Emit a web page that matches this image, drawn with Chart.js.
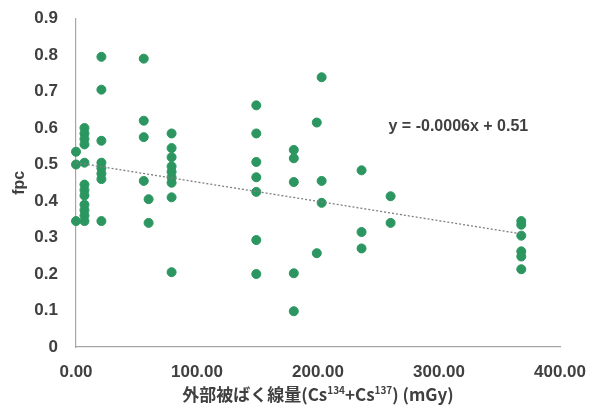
<!DOCTYPE html>
<html>
<head>
<meta charset="utf-8">
<script src="https://cdn.jsdelivr.net/npm/chart.js@4.4.1/dist/chart.umd.min.js"></script>
<style>
  html, body { margin: 0; padding: 0; background: #fff; }
  #wrap { width: 589px; height: 410px; }
</style>
</head>
<body>
<div id="wrap"><canvas id="c" width="589" height="410"></canvas></div>
<script>
// 外部被ばく線量 (mGy) と fpc の値
const doseX = [
  0, 0, 0,
  7, 7, 7, 7, 7, 7, 7, 7, 7, 7, 7, 7,
  21, 21, 21, 21, 21, 21, 21, 21,
  56, 56, 56, 56, 60, 60,
  79, 79, 79, 79, 79, 79, 79, 79, 79,
  149, 149, 149, 149, 149, 149, 149,
  180, 180, 180, 180, 180,
  199, 199, 203, 203, 203,
  236, 236, 236,
  260, 260,
  368, 368, 368, 368, 368, 368
];
const fpcY = [
  0.535, 0.50, 0.345,
  0.60, 0.585, 0.57, 0.555, 0.505, 0.445, 0.43, 0.415, 0.39, 0.375, 0.36, 0.345,
  0.795, 0.705, 0.565, 0.505, 0.49, 0.475, 0.46, 0.345,
  0.79, 0.62, 0.575, 0.455, 0.405, 0.34,
  0.585, 0.545, 0.52, 0.495, 0.48, 0.465, 0.45, 0.41, 0.205,
  0.662, 0.585, 0.507, 0.465, 0.425, 0.293, 0.20,
  0.54, 0.517, 0.452, 0.202, 0.098,
  0.615, 0.257, 0.739, 0.455, 0.395,
  0.484, 0.315, 0.27,
  0.413, 0.34,
  0.345, 0.335, 0.305, 0.262, 0.248, 0.213
];
// 近似直線の両端
const trendX = [0, 368];
const trendY = [0.505, 0.31];
const trendLabel = 'y = -0.0006x + 0.51';

const xTicks = [0, 100, 200, 300, 400];
const yTicks = [0, 0.1, 0.2, 0.3, 0.4, 0.5, 0.6, 0.7, 0.8, 0.9];

// x軸タイトル（[文字, 上付きかどうか]）
const xTitleParts = [['外部被ばく線量(Cs', false], ['134', true], ['+Cs', false], ['137', true], [') (mGy)', false]];

const textColor = '#404040';
const fontFamily = '"Liberation Sans", Arial, sans-serif';
const jpFont = '"Noto Sans CJK JP", "Liberation Sans", sans-serif';

const points = doseX.map((x, i) => ({ x: x, y: fpcY[i] }));
const trend = trendX.map((x, i) => ({ x: x, y: trendY[i] }));

// 近似式とx軸タイトルを描く
const labelsPlugin = {
  id: 'labels',
  afterDraw(chart) {
    const ctx = chart.ctx;
    const xs = chart.scales.x, ys = chart.scales.y;
    ctx.save();
    ctx.font = 'bold 16px ' + fontFamily;
    ctx.fillStyle = textColor;
    ctx.textAlign = 'center';
    ctx.textBaseline = 'middle';
    ctx.fillText(trendLabel, xs.getPixelForValue(316), ys.getPixelForValue(0.605));

    // 上付き文字つきのタイトル
    const big = 'bold 17px ' + jpFont;
    const small = 'bold 10px ' + jpFont;
    let total = 0;
    for (const [t, sup] of xTitleParts) {
      ctx.font = sup ? small : big;
      total += ctx.measureText(t).width;
    }
    let x = (xs.left + xs.right) / 2 - total / 2;
    const baseY = 401;
    ctx.textAlign = 'left';
    ctx.textBaseline = 'alphabetic';
    for (const [t, sup] of xTitleParts) {
      ctx.font = sup ? small : big;
      ctx.fillText(t, x, sup ? baseY - 7 : baseY);
      x += ctx.measureText(t).width;
    }
    ctx.restore();
  }
};

new Chart(document.getElementById('c').getContext('2d'), {
  type: 'scatter',
  data: {
    datasets: [
      {
        type: 'line',
        data: trend,
        borderColor: '#7f7f7f',
        borderWidth: 1.3,
        borderDash: [2, 2],
        pointRadius: 0,
        fill: false,
      },
      {
        data: points,
        backgroundColor: '#2b9660',
        borderColor: '#2b9660',
        pointRadius: 4.5,
        clip: false,
      },
    ],
  },
  options: {
    responsive: false,
    animation: false,
    layout: { autoPadding: false, padding: { top: 18.5, right: 29, left: 0, bottom: 0 } },
    plugins: {
      legend: { display: false },
      tooltip: { enabled: false },
    },
    scales: {
      x: {
        type: 'linear',
        min: 0,
        max: 400,
        afterBuildTicks(scale) { scale.ticks = xTicks.map(v => ({ value: v })); },
        afterFit(scale) {
          scale.height = 63;
          scale.paddingLeft = 0;
          scale.paddingRight = 0;
        },
        grid: { display: false, drawTicks: false },
        border: { color: '#a6a6a6', width: 1.2 },
        ticks: {
          padding: 15,
          color: textColor,
          font: { family: fontFamily, size: 17, weight: 'bold' },
          callback: v => v.toFixed(2),
        },
      },
      y: {
        type: 'linear',
        min: 0,
        max: 0.9,
        afterBuildTicks(scale) { scale.ticks = yTicks.map(v => ({ value: v })); },
        afterFit(scale) {
          scale.width = 76;
          scale.paddingTop = 0;
          scale.paddingBottom = 0;
        },
        grid: { display: false, drawTicks: false },
        border: { color: '#a6a6a6', width: 1.2 },
        ticks: {
          padding: 18,
          color: textColor,
          font: { family: fontFamily, size: 17, weight: 'bold' },
          callback: v => (v === 0 ? '0' : v.toFixed(1)),
        },
        title: {
          display: true,
          text: 'fpc',
          color: textColor,
          font: { family: fontFamily, size: 16, weight: 'bold' },
          padding: { top: 10, bottom: 0 },
        },
      },
    },
  },
  plugins: [labelsPlugin],
});
</script>
</body>
</html>
